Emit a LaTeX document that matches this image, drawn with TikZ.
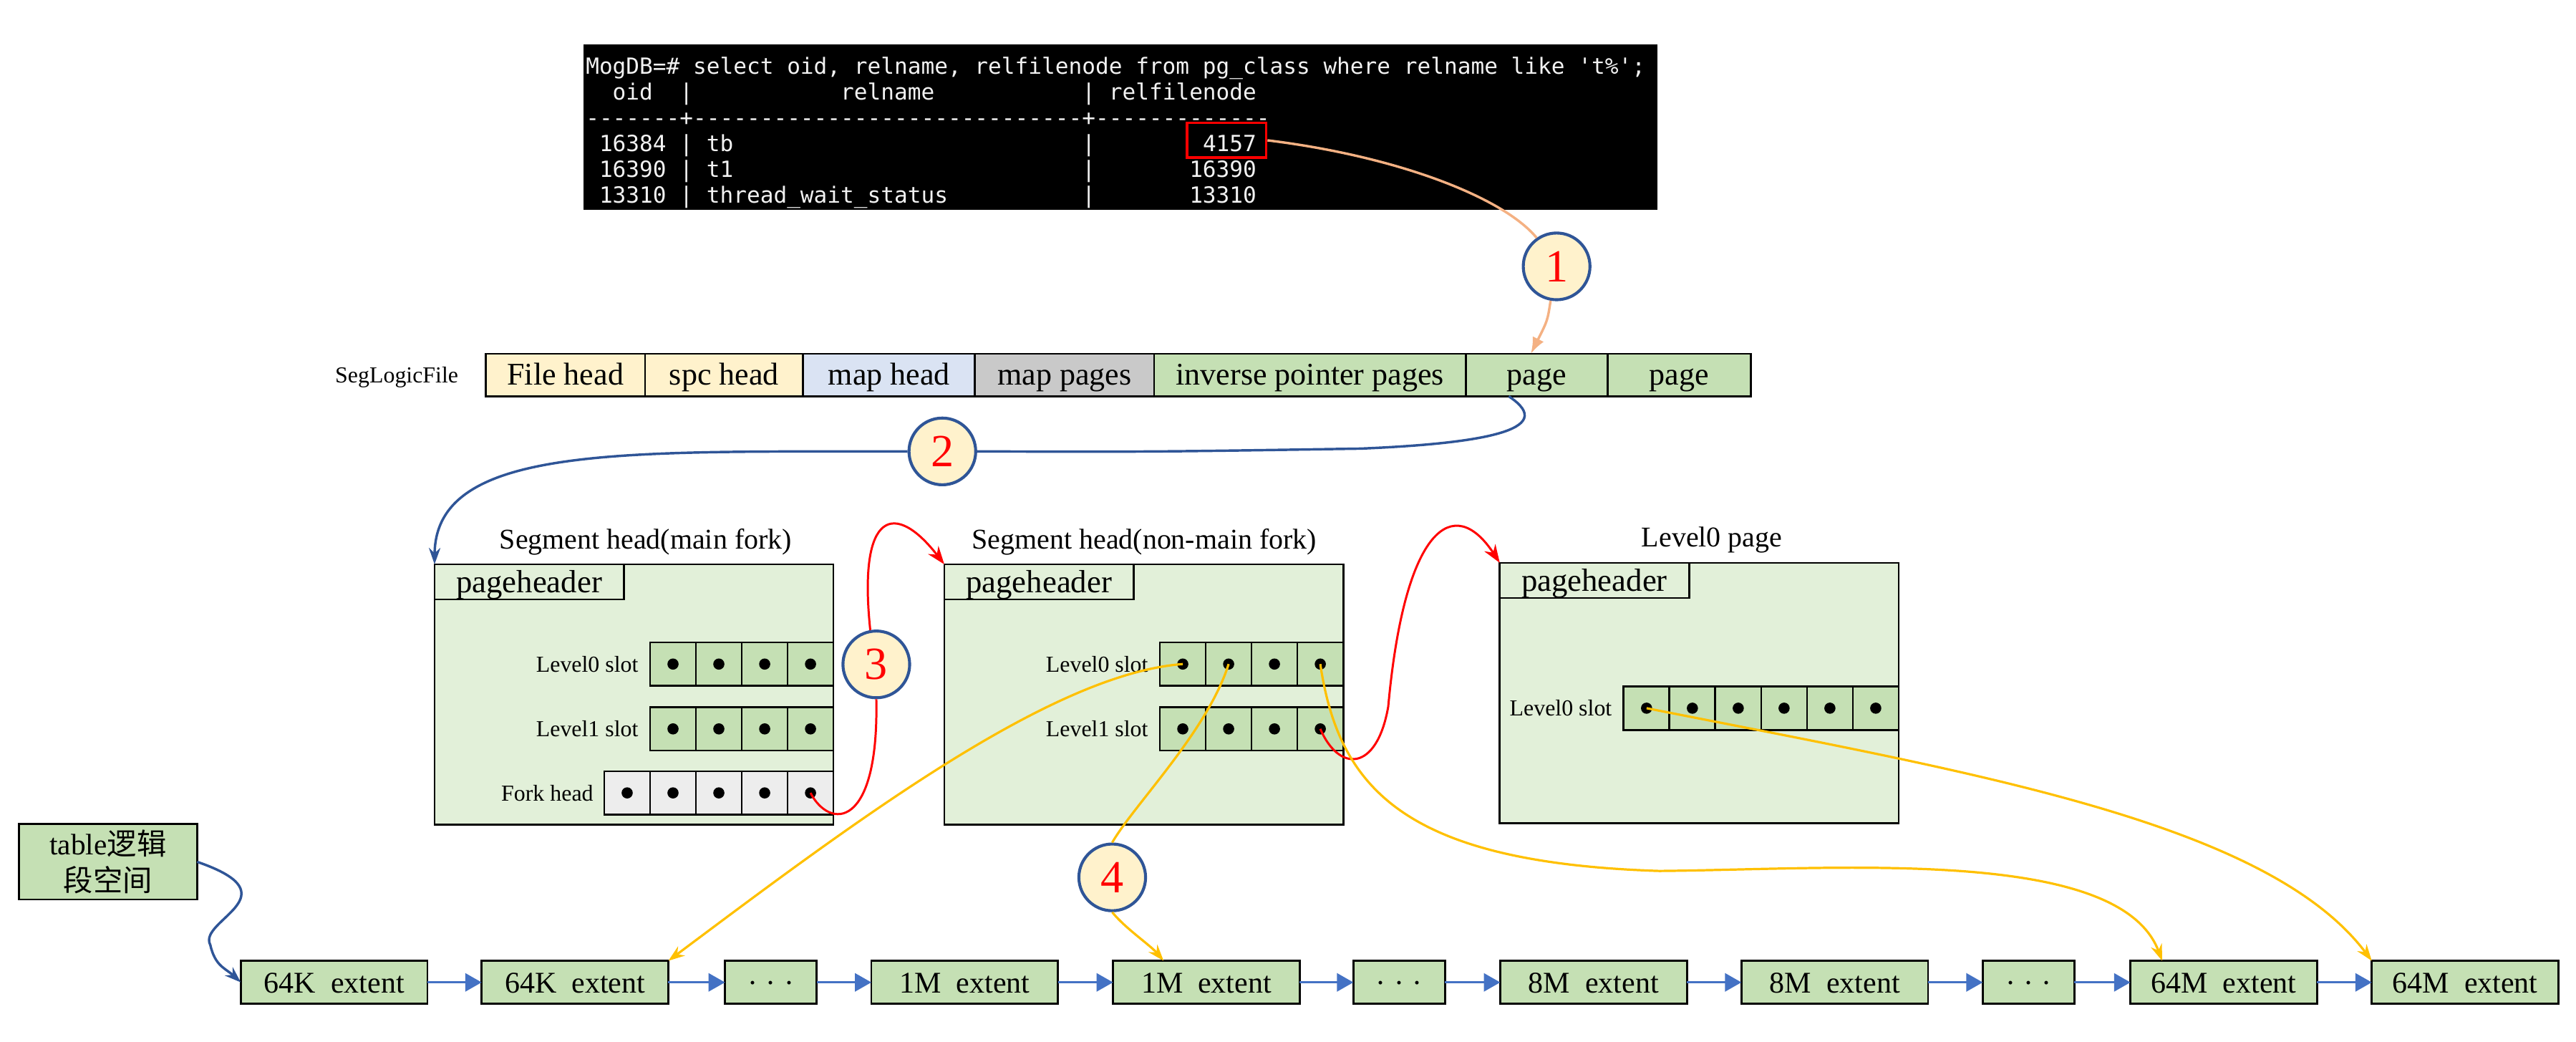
\documentclass[tikz,border=0pt]{standalone}
\usepackage{fontspec}
\setmainfont{Liberation Serif}
\setmonofont{DejaVu Sans Mono}
\newfontfamily\cjk{Noto Sans CJK SC}
\usetikzlibrary{arrows.meta,positioning}
\newcommand\tsp[1]{\kern#1\fontcharwd\font`0\relax}
\definecolor{cyel}{HTML}{FFF2CC}
\definecolor{cblu}{HTML}{DAE3F3}
\definecolor{cgry}{HTML}{C9C9C9}
\definecolor{cgrn}{HTML}{C5E0B4}
\definecolor{cbg}{HTML}{E2F0D9}
\definecolor{cfork}{HTML}{EDEDED}
\definecolor{cnavy}{HTML}{2F5597}
\definecolor{carr}{HTML}{4472C4}
\definecolor{cgold}{HTML}{FFC000}
\definecolor{corg}{HTML}{F4B183}
\definecolor{cterm}{HTML}{F2F2F2}
\begin{document}
\begin{tikzpicture}[x=1pt,y=-1pt,
  cell/.style={draw=black, line width=1.2pt, inner sep=0pt, outer sep=0pt},
  rowcell/.style={cell, minimum height=25.9pt, text height=15pt, text depth=3pt, font=\fontsize{19.2}{22}\selectfont},
  slot/.style={cell, fill=cgrn, minimum width=27.9pt, minimum height=26.4pt,
     path picture={\fill[black] (path picture bounding box.center) circle[radius=3.4pt];}},
  fslot/.style={slot, fill=cfork},
  pagebox/.style={cell, fill=cbg, minimum width=242.8pt, minimum height=158.3pt, anchor=north west},
  tab/.style={cell, fill=cbg, minimum width=115.2pt, minimum height=21.4pt, anchor=north west, text height=15pt, text depth=2pt, font=\fontsize{19.5}{22}\selectfont},
  ttl/.style={font=\fontsize{17.4}{20}\selectfont, inner sep=0pt, anchor=base},
  lbl/.style={font=\fontsize{13.9}{16}\selectfont, inner sep=0pt},
  num/.style={circle, draw=cnavy, line width=1.8pt, fill=cyel, minimum size=40.6pt, inner sep=0pt, text=red, font=\fontsize{28}{28}\selectfont},
  ext/.style={cell, fill=cgrn, minimum width=113.6pt, minimum height=26.2pt, text height=15pt, text depth=2pt, font=\fontsize{18.3}{21}\selectfont, anchor=west},
  dotsbox/.style={ext, minimum width=55.8pt},
  extarrow/.style={draw=carr, line width=1.3pt, -{Triangle[length=10pt,width=11pt]}},
  navyline/.style={draw=cnavy, line width=1.5pt},
  navyarrow/.style={navyline, -{Stealth[length=10pt,width=7pt]}},
  redline/.style={draw=red, line width=1.3pt},
  redarrow/.style={redline, -{Stealth[length=11pt,width=8pt]}},
  gold/.style={draw=cgold, line width=1.4pt},
  goldarrow/.style={gold, -{Stealth[length=10pt,width=7pt]}},
  orng/.style={draw=corg, line width=1.5pt},
  orngarrow/.style={orng, -{Latex[length=10pt,width=7.5pt]}},
  term/.style={font=\ttfamily\fontsize{13.56}{15.7}\selectfont, text=cterm, inner sep=0pt, anchor=base west}
]
\useasboundingbox (0,0) rectangle (1568,633.7);

% terminal
\node[fill=black, minimum width=653.5pt, minimum height=100.8pt, inner sep=0pt, anchor=north west] (term) at (355.1,26.9) {};
\node[term] (tl1) at (356.4,45) {MogDB=\# select oid, relname, relfilenode from pg\_class where relname like 't\%';};
\node[term] (tl2) at (356.4,60.7) {\tsp{2}oid\tsp{2}|\tsp{11}relname\tsp{11}| relfilenode};
\node[term] (tl3) at (356.4,76.4) {-------+-----------------------------+-------------};
\node[term] (tl4) at (356.4,92.1) {\tsp{1}16384 | tb\tsp{26}|\tsp{8}4157};
\node[term] (tl5) at (356.4,107.8) {\tsp{1}16390 | t1\tsp{26}|\tsp{7}16390};
\node[term] (tl6) at (356.4,123.5) {\tsp{1}13310 | thread\_wait\_status\tsp{10}|\tsp{7}13310};
\node[draw=red, line width=1.5pt, minimum width=48.3pt, minimum height=21.1pt, inner sep=0pt, anchor=north west] (rb) at (721.7,74.1) {};

% SegLogicFile row
\node[lbl] (slf) at (241.5,229.5) {SegLogicFile};
\node[rowcell, fill=cyel, minimum width=96.9pt, anchor=west] (fh) at (295.7,228.25) {File head};
\node[rowcell, fill=cyel, minimum width=96.3pt, right=0pt of fh] (sh) {spc head};
\node[rowcell, fill=cblu, minimum width=104.5pt, right=0pt of sh] (mh) {map head};
\node[rowcell, fill=cgry, minimum width=109.1pt, right=0pt of mh] (mp) {map pages};
\node[rowcell, fill=cgrn, minimum width=189.7pt, right=0pt of mp] (ip) {inverse pointer pages};
\node[rowcell, fill=cgrn, minimum width=86.4pt, right=0pt of ip] (pg1) {page};
\node[rowcell, fill=cgrn, minimum width=87pt, right=0pt of pg1] (pg2) {page};

% Box 1
\node[pagebox] (B1) at (264.5,343.4) {};
\node[tab] (H1) at (B1.north west) {pageheader};
\node[ttl] (T1) at (393,334.2) {Segment head(main fork)};
\foreach \i in {1,...,4} \node[slot] (s1a\i) at ({507.3-27.9*(4.5-\i)},404.1) {};
\foreach \i in {1,...,4} \node[slot] (s1b\i) at ({507.3-27.9*(4.5-\i)},443.55) {};
\foreach \i in {1,...,5} \node[fslot] (f\i) at ({507.3-27.9*(5.5-\i)},482.5) {};
\node[lbl, left=7pt of s1a1] (l1a) {Level0 slot};
\node[lbl, left=7pt of s1b1] (l1b) {Level1 slot};
\node[lbl, left=6.5pt of f1] (l1f) {Fork head};

% Box 2
\node[pagebox] (B2) at (574.8,343.4) {};
\node[tab] (H2) at (B2.north west) {pageheader};
\node[ttl] (T2) at (696.5,334.2) {Segment head(non-main fork)};
\foreach \i in {1,...,4} \node[slot] (s2a\i) at ({817.6-27.9*(4.5-\i)},404.1) {};
\foreach \i in {1,...,4} \node[slot] (s2b\i) at ({817.6-27.9*(4.5-\i)},443.55) {};
\node[lbl, left=7pt of s2a1] (l2a) {Level0 slot};
\node[lbl, left=7pt of s2b1] (l2b) {Level1 slot};

% Box 3
\node[pagebox] (B3) at (912.9,342.5) {};
\node[tab] (H3) at (B3.north west) {pageheader};
\node[ttl] (T3) at (1042,332.7) {Level0 page};
\foreach \i in {1,...,6} \node[slot] (s3a\i) at ({1155.7-27.9*(6.5-\i)},430.95) {};
\node[lbl, left=7pt of s3a1] (l3a) {Level0 slot};

% table box
\node[cell, fill=cgrn, minimum width=108.5pt, minimum height=45.9pt, align=center, font=\fontsize{18}{22.5}\selectfont] (tb) at (65.75,524.45) {table{\cjk 逻辑}\\{\cjk 段空间}};

% extents
\node[ext] (e1) at (146.6,597.8) {64K\ \ extent};
\node[ext] (e2) at (293.2,597.8) {64K\ \ extent};
\node[dotsbox] (e3) at (441.3,597.8) {·\kern5pt·\kern5pt·};
\node[ext] (e4) at (530.4,597.8) {1M\ \ extent};
\node[ext] (e5) at (677.5,597.8) {1M\ \ extent};
\node[dotsbox] (e6) at (823.8,597.8) {·\kern5pt·\kern5pt·};
\node[ext] (e7) at (913.2,597.8) {8M\ \ extent};
\node[ext] (e8) at (1060,597.8) {8M\ \ extent};
\node[dotsbox] (e9) at (1206.9,597.8) {·\kern5pt·\kern5pt·};
\node[ext] (e10) at (1296.8,597.8) {64M\ \ extent};
\node[ext] (e11) at (1443.7,597.8) {64M\ \ extent};
\foreach \a/\b in {e1/e2,e2/e3,e3/e4,e4/e5,e5/e6,e6/e7,e7/e8,e8/e9,e9/e10,e10/e11}
  \draw[extarrow] (\a) -- (\b);

% numbered circles
\node[num] (c1) at (947.5,162.1) {1};
\node[num] (c2) at (573.6,274.7) {2};
\node[num] (c3) at (533.4,404.3) {3};
\node[num] (c4) at (677,533.9) {4};

% step 1 (orange)
\draw[orng] (rb.east) .. controls (850,95) and (915,120) .. (c1.125);
\draw[orngarrow] (c1.-100) .. controls (942,195) .. ([xshift=-3.6pt]pg1.north);

% step 2 (navy)
\draw[navyline] ([xshift=-17pt]pg1.south) .. controls (950,262) and (900,270) .. (828,273) .. controls (700,275) .. (c2.east);
\draw[navyarrow] (c2.west) .. controls (380,275) and (265,270) .. (B1.north west);

% table -> first extent
\draw[navyarrow] (tb.east) .. controls (180,545) and (120,560) .. (128,575) .. controls (131,588) and (137,589) .. (e1.west);

% step 3 (red)
\draw[redline] (f5.center) .. controls (505,505) and (535,505) .. (c3.south);
\draw[redarrow] (c3.100) .. controls (522,310) and (545,305) .. (B2.north west);
\draw[redarrow] (s2b4.center) .. controls (815,470) and (838,470) .. (845,430) .. controls (855,320) and (885,300) .. (B3.north west);

% yellow pointers
\draw[goldarrow] (s2a1.center) .. controls (640,410) and (520,500) .. (e2.north east);
\draw[gold] (s2a2.center) .. controls (735,445) and (690,490) .. (c4.north);
\draw[goldarrow] (c4.south) .. controls (685,565) and (700,575) .. ([xshift=-26pt]e5.north);
\draw[goldarrow] (s2a4.center) .. controls (815,480) and (855,525) .. (1010,530) .. controls (1120,529) and (1290,515) .. ([xshift=-37.5pt]e10.north);
\draw[goldarrow] (s3a1.center) .. controls (1200,470) and (1380,500) .. (e11.north west);
\end{tikzpicture}
\end{document}
